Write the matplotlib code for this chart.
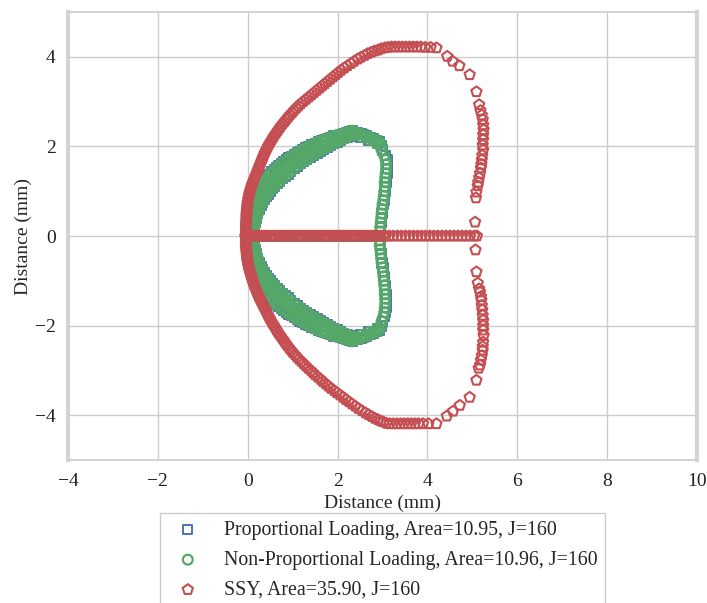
import matplotlib
matplotlib.use("Agg")
import matplotlib.pyplot as plt
import seaborn as sns

# plastic zone boundary points (mm) around the crack tip at (0, 0)
prop_upper = [
    # outer edge of the band
    (0.08, 0.05), (0.085, 0.125), (0.09, 0.2), (0.095, 0.275), (0.1, 0.35), (0.11, 0.425),
    (0.12, 0.5), (0.135, 0.575), (0.15, 0.65), (0.17, 0.725), (0.19, 0.8), (0.215, 0.875),
    (0.24, 0.95), (0.27, 1.015), (0.3, 1.08), (0.335, 1.14), (0.37, 1.2), (0.41, 1.26),
    (0.45, 1.32), (0.495, 1.375), (0.54, 1.43), (0.59, 1.48), (0.64, 1.53), (0.695, 1.575),
    (0.75, 1.62), (0.805, 1.66), (0.86, 1.7), (0.92, 1.74), (0.98, 1.78), (1.04, 1.82),
    (1.1, 1.86), (1.165, 1.895), (1.23, 1.93), (1.295, 1.965), (1.36, 2.0), (1.43, 2.035),
    (1.5, 2.07), (1.57, 2.1), (1.64, 2.13), (1.71, 2.155), (1.78, 2.18), (1.85, 2.205),
    (1.92, 2.23), (1.99, 2.25), (2.06, 2.27), (2.13, 2.29), (2.2, 2.31), (2.265, 2.33),
    (2.33, 2.35),
    # middle
    (0.12, 0.3), (0.14, 0.4), (0.16, 0.5), (0.185, 0.59), (0.21, 0.68), (0.245, 0.765),
    (0.28, 0.85), (0.32, 0.925), (0.36, 1.0), (0.405, 1.065), (0.45, 1.13), (0.5, 1.19),
    (0.55, 1.25), (0.605, 1.305), (0.66, 1.36), (0.72, 1.415), (0.78, 1.47), (0.845, 1.52),
    (0.91, 1.57), (0.975, 1.615), (1.04, 1.66), (1.11, 1.705), (1.18, 1.75), (1.25, 1.79),
    (1.32, 1.83), (1.395, 1.87), (1.47, 1.91), (1.545, 1.945), (1.62, 1.98), (1.695, 2.015),
    (1.77, 2.05), (1.845, 2.08), (1.92, 2.11), (1.995, 2.14), (2.07, 2.17), (2.14, 2.2),
    (2.21, 2.23), (2.275, 2.265), (2.34, 2.3),
    # inner edge
    (0.14, 0.2), (0.165, 0.3), (0.19, 0.4), (0.225, 0.5), (0.26, 0.6), (0.295, 0.675),
    (0.33, 0.75), (0.37, 0.815), (0.41, 0.88), (0.455, 0.94), (0.5, 1.0), (0.55, 1.055),
    (0.6, 1.11), (0.655, 1.165), (0.71, 1.22), (0.77, 1.275), (0.83, 1.33), (0.895, 1.385),
    (0.96, 1.44), (1.03, 1.5), (1.1, 1.56), (1.17, 1.61), (1.24, 1.66), (1.315, 1.71),
    (1.39, 1.76), (1.465, 1.805), (1.54, 1.85), (1.615, 1.895), (1.69, 1.94), (1.765, 1.98),
    (1.84, 2.02), (1.915, 2.06), (1.99, 2.1), (2.065, 2.135), (2.14, 2.17), (2.21, 2.2),
    (2.28, 2.23), (2.34, 2.255), (2.4, 2.28),
    # top right corner
    (2.45, 2.3), (2.52, 2.28), (2.58, 2.26), (2.65, 2.23), (2.72, 2.2), (2.8, 2.17),
    (2.87, 2.14), (2.93, 2.1), (2.98, 2.02), (2.52, 2.21), (2.7, 2.14), (2.88, 2.06),
]
prop_lower = [
    (0.08, -0.05), (0.085, -0.125), (0.09, -0.2), (0.095, -0.275), (0.1, -0.35), (0.11, -0.425),
    (0.12, -0.5), (0.135, -0.575), (0.15, -0.65), (0.17, -0.725), (0.19, -0.8), (0.215, -0.875),
    (0.24, -0.95), (0.27, -1.015), (0.3, -1.08), (0.335, -1.14), (0.37, -1.2), (0.41, -1.26),
    (0.45, -1.32), (0.495, -1.375), (0.54, -1.43), (0.59, -1.48), (0.64, -1.53), (0.695, -1.575),
    (0.75, -1.62), (0.805, -1.66), (0.86, -1.7), (0.92, -1.74), (0.98, -1.78), (1.04, -1.82),
    (1.1, -1.86), (1.165, -1.895), (1.23, -1.93), (1.295, -1.965), (1.36, -2.0), (1.43, -2.035),
    (1.5, -2.07), (1.57, -2.1), (1.64, -2.13), (1.71, -2.155), (1.78, -2.18), (1.85, -2.205),
    (1.92, -2.23), (1.99, -2.25), (2.06, -2.27), (2.13, -2.29), (2.2, -2.31), (2.265, -2.33),
    (2.33, -2.35),
    (0.12, -0.3), (0.14, -0.4), (0.16, -0.5), (0.185, -0.59), (0.21, -0.68), (0.245, -0.765),
    (0.28, -0.85), (0.32, -0.925), (0.36, -1.0), (0.405, -1.065), (0.45, -1.13), (0.5, -1.19),
    (0.55, -1.25), (0.605, -1.305), (0.66, -1.36), (0.72, -1.415), (0.78, -1.47), (0.845, -1.52),
    (0.91, -1.57), (0.975, -1.615), (1.04, -1.66), (1.11, -1.705), (1.18, -1.75), (1.25, -1.79),
    (1.32, -1.83), (1.395, -1.87), (1.47, -1.91), (1.545, -1.945), (1.62, -1.98), (1.695, -2.015),
    (1.77, -2.05), (1.845, -2.08), (1.92, -2.11), (1.995, -2.14), (2.07, -2.17), (2.14, -2.2),
    (2.21, -2.23), (2.275, -2.265), (2.34, -2.3),
    (0.14, -0.2), (0.165, -0.3), (0.19, -0.4), (0.225, -0.5), (0.26, -0.6), (0.295, -0.675),
    (0.33, -0.75), (0.37, -0.815), (0.41, -0.88), (0.455, -0.94), (0.5, -1.0), (0.55, -1.055),
    (0.6, -1.11), (0.655, -1.165), (0.71, -1.22), (0.77, -1.275), (0.83, -1.33), (0.895, -1.385),
    (0.96, -1.44), (1.03, -1.5), (1.1, -1.56), (1.17, -1.61), (1.24, -1.66), (1.315, -1.71),
    (1.39, -1.76), (1.465, -1.805), (1.54, -1.85), (1.615, -1.895), (1.69, -1.94), (1.765, -1.98),
    (1.84, -2.02), (1.915, -2.06), (1.99, -2.1), (2.065, -2.135), (2.14, -2.17), (2.21, -2.2),
    (2.28, -2.23), (2.34, -2.255), (2.4, -2.28),
    (2.45, -2.3), (2.52, -2.28), (2.58, -2.26), (2.65, -2.23), (2.72, -2.2), (2.8, -2.17),
    (2.87, -2.14), (2.93, -2.1), (2.98, -2.02), (2.52, -2.21), (2.7, -2.14), (2.88, -2.06),
]
prop_column = [
    (3.0, 1.92), (3.07, 1.8), (3.1, 1.7), (3.11, 1.6), (3.11, 1.5), (3.1, 1.4),
    (3.09, 1.3), (3.08, 1.2), (3.07, 1.1), (3.06, 1.0), (3.05, 0.9), (3.04, 0.8),
    (3.02, 0.7), (3.0, 0.6), (2.99, 0.5), (2.98, 0.4), (2.97, 0.3), (2.96, 0.2),
    (2.96, 0.1), (2.95, -0.1), (2.95, -0.2), (2.96, -0.3), (2.97, -0.4), (2.98, -0.5),
    (2.99, -0.6), (3.01, -0.7), (3.02, -0.8), (3.04, -0.9), (3.05, -1.0), (3.06, -1.1),
    (3.07, -1.2), (3.08, -1.3), (3.09, -1.4), (3.09, -1.5), (3.08, -1.6), (3.06, -1.7),
    (3.04, -1.8), (3.0, -1.9),
]
nonprop_column = [
    (2.98, 1.92), (3.04, 1.8), (3.07, 1.7), (3.08, 1.6), (3.08, 1.5), (3.07, 1.4),
    (3.06, 1.3), (3.05, 1.2), (3.05, 1.1), (3.04, 1.0), (3.03, 0.9), (3.02, 0.8),
    (3.0, 0.7), (2.99, 0.6), (2.98, 0.5), (2.97, 0.4), (2.96, 0.3), (2.95, 0.2),
    (2.95, 0.1), (2.94, -0.1), (2.94, -0.2), (2.95, -0.3), (2.96, -0.4), (2.97, -0.5),
    (2.98, -0.6), (3.0, -0.7), (3.01, -0.8), (3.02, -0.9), (3.03, -1.0), (3.04, -1.1),
    (3.05, -1.2), (3.05, -1.3), (3.06, -1.4), (3.06, -1.5), (3.05, -1.6), (3.04, -1.7),
    (3.02, -1.8), (2.98, -1.9),
]
prop_crack_x = [-0.05, 0.1, 0.25, 0.4, 0.55, 0.7, 0.85, 1.0, 1.15, 1.3, 1.45, 1.6,
                1.75, 1.9, 2.05, 2.2, 2.35, 2.5, 2.65, 2.8, 2.9]

ssy_upper = [
    (-0.03, 0.05), (-0.035, 0.1), (-0.04, 0.15), (-0.04, 0.2), (-0.04, 0.25), (-0.035, 0.3),
    (-0.03, 0.35), (-0.03, 0.4), (-0.03, 0.45), (-0.025, 0.5), (-0.02, 0.55), (-0.015, 0.6),
    (-0.01, 0.65), (-0.005, 0.7), (0.0, 0.75), (0.01, 0.8), (0.02, 0.85), (0.03, 0.9),
    (0.04, 0.95), (0.055, 1.0), (0.07, 1.05), (0.085, 1.1), (0.1, 1.15), (0.12, 1.2),
    (0.14, 1.25), (0.16, 1.3), (0.18, 1.35), (0.2, 1.4), (0.22, 1.45), (0.24, 1.5),
    (0.26, 1.55), (0.28, 1.6), (0.3, 1.65), (0.32, 1.7), (0.34, 1.75), (0.36, 1.8),
    (0.38, 1.85), (0.405, 1.9), (0.43, 1.95), (0.455, 2.0), (0.48, 2.05), (0.51, 2.1),
    (0.54, 2.15), (0.57, 2.2), (0.6, 2.25), (0.635, 2.3), (0.67, 2.35), (0.705, 2.4),
    (0.74, 2.45), (0.78, 2.5), (0.82, 2.55), (0.86, 2.6), (0.9, 2.65), (0.94, 2.7),
    (0.99, 2.75), (1.03, 2.8), (1.08, 2.85), (1.13, 2.9), (1.18, 2.95), (1.24, 3.0),
    (1.3, 3.05), (1.36, 3.1), (1.42, 3.15), (1.48, 3.2), (1.54, 3.25), (1.6, 3.3),
    (1.66, 3.35), (1.72, 3.4), (1.78, 3.45), (1.84, 3.5), (1.9, 3.55), (1.96, 3.6),
    (2.02, 3.65), (2.08, 3.7), (2.15, 3.75), (2.22, 3.8), (2.3, 3.85), (2.37, 3.9),
    (2.45, 3.95), (2.52, 3.99), (2.6, 4.03), (2.67, 4.07), (2.75, 4.1), (2.82, 4.13),
    (2.9, 4.15), (2.97, 4.18), (3.05, 4.2),
    # flat top
    (3.12, 4.21), (3.2, 4.22), (3.28, 4.22), (3.36, 4.22), (3.44, 4.22), (3.52, 4.22),
    (3.6, 4.22), (3.68, 4.22), (3.76, 4.22), (3.85, 4.22), (3.95, 4.21), (4.07, 4.21),
    (4.2, 4.2),
    # right side
    (4.44, 4.01), (4.56, 3.9), (4.71, 3.8), (4.94, 3.6), (5.09, 3.22), (5.15, 2.93),
    (5.18, 2.8), (5.21, 2.7), (5.23, 2.6), (5.24, 2.48), (5.25, 2.37), (5.24, 2.26),
    (5.24, 2.15), (5.23, 2.03), (5.24, 1.92), (5.22, 1.8), (5.21, 1.7), (5.2, 1.6),
    (5.19, 1.52), (5.17, 1.4), (5.15, 1.3), (5.13, 1.2), (5.12, 1.12), (5.09, 0.98),
    (5.08, 0.85), (5.06, 0.31),
]
ssy_lower = [
    (-0.03, -0.05), (-0.035, -0.1), (-0.04, -0.15), (-0.04, -0.2), (-0.04, -0.25),
    (-0.035, -0.3), (-0.03, -0.35), (-0.025, -0.4), (-0.02, -0.45), (-0.015, -0.5),
    (-0.01, -0.55), (0.0, -0.6), (0.01, -0.65), (0.02, -0.7), (0.03, -0.75), (0.045, -0.8),
    (0.06, -0.85), (0.075, -0.9), (0.09, -0.95), (0.105, -1.0), (0.12, -1.05), (0.14, -1.1),
    (0.16, -1.15), (0.18, -1.2), (0.2, -1.25), (0.22, -1.3), (0.24, -1.35), (0.265, -1.4),
    (0.29, -1.45), (0.315, -1.5), (0.34, -1.55), (0.365, -1.6), (0.39, -1.65), (0.415, -1.7),
    (0.44, -1.75), (0.465, -1.8), (0.49, -1.85), (0.52, -1.9), (0.55, -1.95), (0.58, -2.0),
    (0.61, -2.05), (0.64, -2.1), (0.67, -2.15), (0.705, -2.2), (0.74, -2.25), (0.775, -2.3),
    (0.81, -2.35), (0.845, -2.4), (0.88, -2.45), (0.92, -2.5), (0.96, -2.55), (1.0, -2.6),
    (1.05, -2.65), (1.09, -2.7), (1.14, -2.75), (1.19, -2.8), (1.24, -2.85), (1.29, -2.9),
    (1.34, -2.95), (1.4, -3.0), (1.45, -3.05), (1.5, -3.1), (1.56, -3.15), (1.62, -3.2),
    (1.67, -3.25), (1.73, -3.3), (1.79, -3.35), (1.85, -3.4), (1.92, -3.45), (1.98, -3.5),
    (2.05, -3.55), (2.12, -3.6), (2.18, -3.65), (2.25, -3.7), (2.32, -3.75), (2.39, -3.8),
    (2.46, -3.85), (2.54, -3.9), (2.62, -3.95), (2.69, -3.99), (2.76, -4.03), (2.83, -4.07),
    (2.9, -4.1), (2.96, -4.13), (3.02, -4.15),
    # flat bottom
    (3.09, -4.18), (3.16, -4.19), (3.24, -4.19), (3.32, -4.19), (3.4, -4.19), (3.48, -4.19),
    (3.56, -4.19), (3.64, -4.19), (3.72, -4.19), (3.8, -4.19), (3.9, -4.19), (4.02, -4.19),
    (4.2, -4.19),
    # right side
    (4.43, -4.02), (4.57, -3.91), (4.72, -3.78), (4.94, -3.6), (5.09, -3.22), (5.14, -2.95),
    (5.17, -2.88), (5.19, -2.77), (5.21, -2.67), (5.23, -2.55), (5.23, -2.47), (5.24, -2.37),
    (5.25, -2.22), (5.24, -2.1), (5.24, -2.0), (5.24, -1.88), (5.23, -1.77), (5.22, -1.65),
    (5.21, -1.55), (5.2, -1.43), (5.19, -1.35), (5.17, -1.25), (5.15, -1.18), (5.12, -1.05),
    (5.09, -0.8), (5.07, -0.31),
]
ssy_crack_x = [-0.05, 0.01, 0.07, 0.13, 0.19, 0.25, 0.31, 0.37, 0.43, 0.49, 0.55, 0.61,
               0.67, 0.73, 0.79, 0.85, 0.91, 0.97, 1.03, 1.09, 1.15, 1.21, 1.27, 1.33,
               1.39, 1.45, 1.51, 1.57, 1.63, 1.69, 1.75, 1.81, 1.87, 1.93, 1.99, 2.05,
               2.11, 2.17, 2.23, 2.29, 2.35, 2.41, 2.47, 2.53, 2.59, 2.65, 2.71, 2.77,
               2.83, 2.89, 2.95, 3.01, 3.07, 3.15, 3.24, 3.33, 3.42, 3.51, 3.6, 3.69,
               3.78, 3.87, 3.96, 4.05, 4.14, 4.23, 4.32, 4.41, 4.5, 4.59, 4.68, 4.77,
               4.86, 4.95, 5.04, 5.1]

labels = [
    "Proportional Loading, Area=10.95, J=160",
    "Non-Proportional Loading, Area=10.96, J=160",
    "SSY, Area=35.90, J=160",
]


def points(crack_x, *segments):
    pts = [(x, 0.0) for x in crack_x]
    for seg in segments:
        pts.extend(seg)
    return [p[0] for p in pts], [p[1] for p in pts]


sns.set_style("whitegrid")
plt.rcParams["font.family"] = ["Liberation Serif", "DejaVu Serif"]
plt.rcParams["font.size"] = 14
plt.rcParams["axes.unicode_minus"] = True

fig = plt.figure(figsize=(7.07, 6.03), dpi=100)
ax = fig.add_axes([0.0962, 0.2371, 0.8897, 0.743])

px, py = points(prop_crack_x, prop_upper, prop_column, prop_lower)
nx, ny = points(prop_crack_x, prop_upper, nonprop_column, prop_lower)
sx, sy = points(ssy_crack_x, ssy_upper, ssy_lower)

ax.scatter(px, py, s=44, marker="s", facecolors="none", edgecolors="#4C72B0",
           linewidths=1.4, label=labels[0], zorder=2)
ax.scatter(nx, ny, s=50, marker="o", facecolors="none", edgecolors="#55A868",
           linewidths=1.6, label=labels[1], zorder=3)
ax.scatter(sx, sy, s=60, marker="p", facecolors="none", edgecolors="#C44E52",
           linewidths=1.5, label=labels[2], zorder=4)

ax.set_xlim(-4, 10)
ax.set_ylim(-5, 5)
ax.set_xticks(range(-4, 11, 2))
ax.set_yticks(range(-4, 5, 2))
ax.set_xlabel("Distance (mm)", labelpad=4)
ax.set_ylabel("Distance (mm)", labelpad=2)
ax.tick_params(length=0, pad=9, labelsize=14, colors="#222222")
ax.grid(True, color="0.8", linewidth=1.0)
for side in ("left", "right"):
    ax.spines[side].set_linewidth(3.0)
for side in ("top", "bottom"):
    ax.spines[side].set_linewidth(1.5)
for sp in ax.spines.values():
    sp.set_color("0.83")

fig.legend(loc="upper left", bbox_to_anchor=(160 / 707, 1 - 513 / 603),
           bbox_transform=fig.transFigure, borderaxespad=0, frameon=True,
           fancybox=False, edgecolor="0.8", framealpha=1, fontsize=14.3,
           scatterpoints=1, labelspacing=0.55)

fig.savefig("out.png", dpi=100)
